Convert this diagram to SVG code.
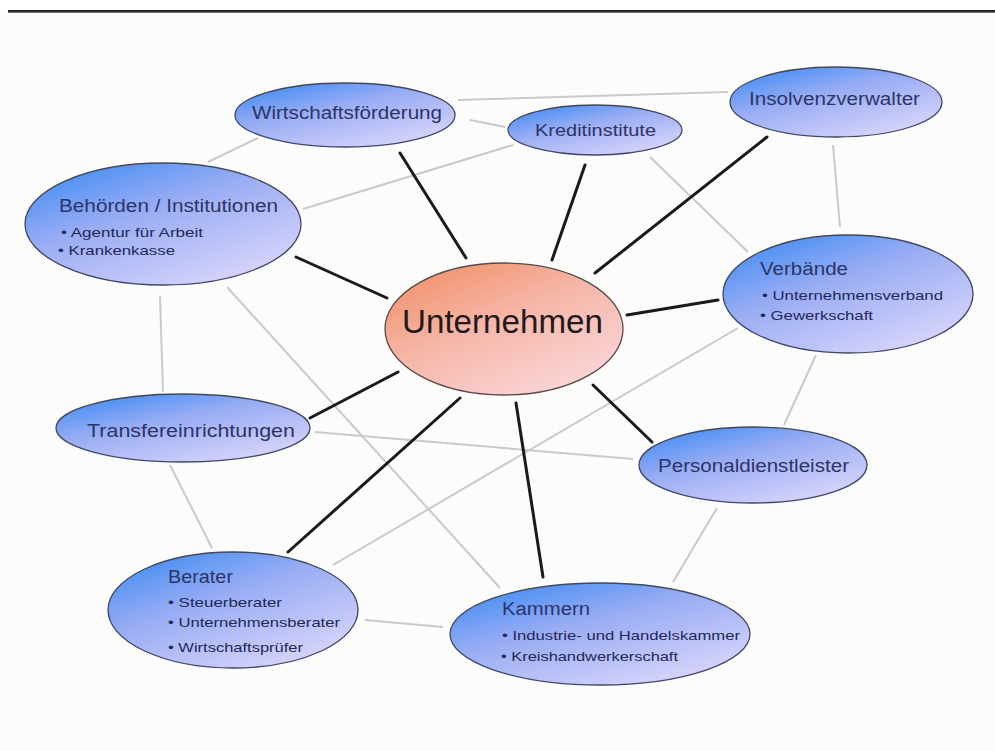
<svg xmlns="http://www.w3.org/2000/svg" width="995" height="751" viewBox="0 0 995 751">
<style>
.bg{fill:#fcfdfb}
.dark{stroke:#1a1a1a;stroke-width:3;stroke-linecap:round;fill:none}
.light{stroke:#c9c9c9;stroke-width:2;fill:none}
.node{fill:url(#blue);stroke:#3d4766;stroke-width:1.3}
.main{fill:url(#red);stroke:#5a4a48;stroke-width:1.3}
.t{font-family:"Liberation Sans",Arial,sans-serif;fill:#2e3468}
.title{font-size:17.5px}
.sub{font-size:13px;fill:#23285a}
</style>
<defs>
<linearGradient id="blue" x1="0" y1="0" x2="0.75" y2="1">
<stop offset="0" stop-color="#2f86f2"/>
<stop offset="0.45" stop-color="#98acf4"/>
<stop offset="1" stop-color="#d9d5fb"/>
</linearGradient>
<linearGradient id="red" x1="0" y1="0" x2="0.75" y2="1">
<stop offset="0" stop-color="#f18a5e"/>
<stop offset="0.5" stop-color="#f6b6a8"/>
<stop offset="1" stop-color="#fad6d8"/>
</linearGradient>
<linearGradient id="bar" x1="0" y1="0" x2="0" y2="1">
<stop offset="0" stop-color="#111"/>
<stop offset="0.6" stop-color="#333"/>
<stop offset="1" stop-color="#999"/>
</linearGradient>
</defs>
<rect class="bg" x="0" y="0" width="995" height="751"/>
<rect x="0" y="0" width="995" height="10" fill="#fff"/>
<rect x="8" y="10" width="987" height="3" fill="url(#bar)"/>
<g id="connectors">
<line class="light" x1="258" y1="138" x2="208" y2="162"/>
<line class="light" x1="470" y1="120" x2="505" y2="127"/>
<line class="light" x1="458" y1="100" x2="728" y2="92"/>
<line class="light" x1="303" y1="209" x2="513" y2="145"/>
<line class="light" x1="650" y1="157" x2="748" y2="252"/>
<line class="light" x1="833" y1="145" x2="840" y2="227"/>
<line class="light" x1="160" y1="296" x2="163" y2="392"/>
<line class="light" x1="227" y1="287" x2="500" y2="588"/>
<line class="light" x1="315" y1="432" x2="633" y2="459"/>
<line class="light" x1="170" y1="465" x2="212" y2="548"/>
<line class="light" x1="333" y1="565" x2="738" y2="328"/>
<line class="light" x1="365" y1="620" x2="443" y2="627"/>
<line class="light" x1="784" y1="425" x2="816" y2="355"/>
<line class="light" x1="717" y1="508" x2="673" y2="582"/>
<line class="dark" x1="296" y1="257" x2="387" y2="298"/>
<line class="dark" x1="400" y1="153" x2="466" y2="258"/>
<line class="dark" x1="585" y1="165" x2="552" y2="260"/>
<line class="dark" x1="767" y1="137" x2="595" y2="273"/>
<line class="dark" x1="627" y1="315" x2="718" y2="300"/>
<line class="dark" x1="593" y1="385" x2="652" y2="442"/>
<line class="dark" x1="516" y1="403" x2="543" y2="577"/>
<line class="dark" x1="460" y1="398" x2="288" y2="552"/>
<line class="dark" x1="398" y1="372" x2="310" y2="418"/>
</g>
<g id="wirtschaftsfoerderung">
<ellipse class="node" cx="345" cy="115" rx="110" ry="32"/>
<text class="t title" x="252" y="119" textLength="190" lengthAdjust="spacingAndGlyphs">Wirtschaftsförderung</text>
</g>
<g id="kreditinstitute">
<ellipse class="node" cx="595" cy="130" rx="87" ry="25"/>
<text class="t" x="535" y="136" font-size="16.5" textLength="121" lengthAdjust="spacingAndGlyphs">Kreditinstitute</text>
</g>
<g id="insolvenzverwalter">
<ellipse class="node" cx="836" cy="102" rx="106" ry="35"/>
<text class="t title" x="749" y="105" textLength="171" lengthAdjust="spacingAndGlyphs">Insolvenzverwalter</text>
</g>
<g id="behoerden">
<ellipse class="node" cx="163" cy="224" rx="138" ry="61"/>
<text class="t" x="59" y="212" font-size="18" textLength="219" lengthAdjust="spacingAndGlyphs">Behörden / Institutionen</text>
<text class="t sub" x="61" y="237" textLength="142" lengthAdjust="spacingAndGlyphs">• Agentur für Arbeit</text>
<text class="t sub" x="58" y="255" textLength="117" lengthAdjust="spacingAndGlyphs">• Krankenkasse</text>
</g>
<g id="verbaende">
<ellipse class="node" cx="848" cy="294" rx="125" ry="59"/>
<text class="t" x="760" y="275" font-size="18" textLength="88" lengthAdjust="spacingAndGlyphs">Verbände</text>
<text class="t sub" x="762" y="300" textLength="181" lengthAdjust="spacingAndGlyphs">• Unternehmensverband</text>
<text class="t sub" x="760" y="320" textLength="113" lengthAdjust="spacingAndGlyphs">• Gewerkschaft</text>
</g>
<g id="unternehmen">
<ellipse class="main" cx="504" cy="329" rx="119" ry="66"/>
<text x="402" y="333" font-family="'Liberation Sans',Arial,sans-serif" font-size="33" fill="#221a1a" textLength="201" lengthAdjust="spacingAndGlyphs">Unternehmen</text>
</g>
<g id="transfereinrichtungen">
<ellipse class="node" cx="183" cy="428" rx="127" ry="34"/>
<text class="t title" x="87" y="437" textLength="208" lengthAdjust="spacingAndGlyphs">Transfereinrichtungen</text>
</g>
<g id="personaldienstleister">
<ellipse class="node" cx="753" cy="465" rx="114" ry="38"/>
<text class="t title" x="658" y="472" textLength="191" lengthAdjust="spacingAndGlyphs">Personaldienstleister</text>
</g>
<g id="berater">
<ellipse class="node" cx="233" cy="610" rx="125" ry="58"/>
<text class="t" x="168" y="583" font-size="18" textLength="65" lengthAdjust="spacingAndGlyphs">Berater</text>
<text class="t sub" x="168" y="607" textLength="114" lengthAdjust="spacingAndGlyphs">• Steuerberater</text>
<text class="t sub" x="168" y="627" textLength="172" lengthAdjust="spacingAndGlyphs">• Unternehmensberater</text>
<text class="t sub" x="168" y="652" textLength="135" lengthAdjust="spacingAndGlyphs">• Wirtschaftsprüfer</text>
</g>
<g id="kammern">
<ellipse class="node" cx="600" cy="634" rx="150" ry="51"/>
<text class="t" x="502" y="615" font-size="18" textLength="88" lengthAdjust="spacingAndGlyphs">Kammern</text>
<text class="t sub" x="502" y="640" textLength="238" lengthAdjust="spacingAndGlyphs">• Industrie- und Handelskammer</text>
<text class="t sub" x="501" y="661" textLength="177" lengthAdjust="spacingAndGlyphs">• Kreishandwerkerschaft</text>
</g>
</svg>
